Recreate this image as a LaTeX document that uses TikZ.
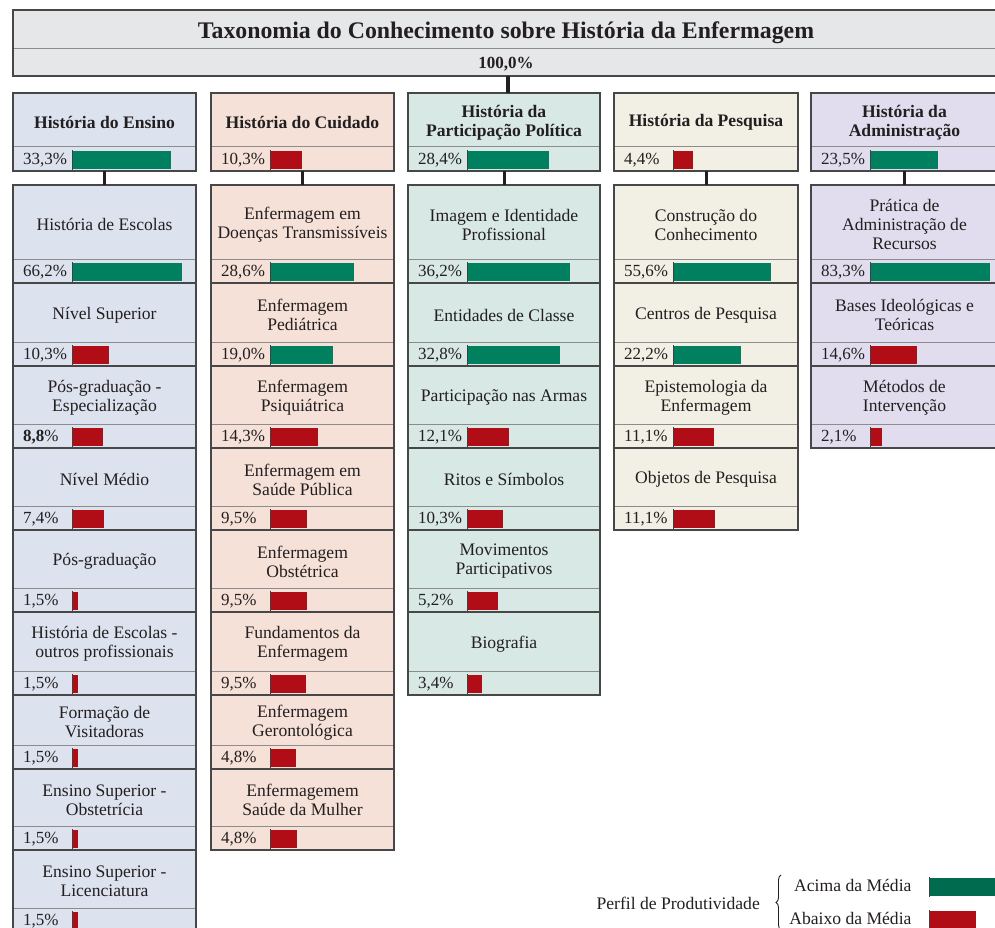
\documentclass[tikz,border=0pt]{standalone}
\usepackage{fontspec}
\setmainfont{Liberation Serif}
\usetikzlibrary{decorations.pathreplacing}

\definecolor{tinta}{HTML}{231F20}
\definecolor{cinza}{HTML}{E6E7E9}
\definecolor{azul}{HTML}{DCE3EF}
\definecolor{pessego}{HTML}{F5E1D7}
\definecolor{verdeclaro}{HTML}{D8E8E4}
\definecolor{creme}{HTML}{F2EFE4}
\definecolor{lilas}{HTML}{E1DDEE}
\definecolor{verde}{HTML}{00805F}
\definecolor{verdeesc}{HTML}{006B4F}
\definecolor{vermelho}{HTML}{B00D17}

\newcommand{\txt}{\fontsize{17.6}{19}\selectfont}
\newcommand{\num}{\fontsize{17}{19}\selectfont}

\tikzset{
  caixa/.style={inner sep=0pt, outer sep=0pt},
  titulo/.style={inner sep=0pt, outer sep=0pt, align=center, font=\txt, text=tinta},
  pct/.style={inner sep=0pt, outer sep=0pt, minimum height=24pt},
  borda/.style={draw=black!72, line width=1.4pt},
  sep/.style={draw=black!45, line width=1pt},
  marca/.style={draw=black!75, line width=1pt},
  acima/.style={fill=verde},
  abaixo/.style={fill=vermelho},
  liga/.style={draw=tinta, line width=3pt},
}

% #1 nome, #2 topo, #3 base, #4 texto, #5 valor, #6 barra, #7 estilo da barra
\newcommand{\celula}[7]{%
  \node[caixa, fill=\fundo, minimum width=\colw, minimum height={(#3-#2-24)*1pt}, anchor=north west] (#1) at (\colx,#2) {};
  \node[titulo] (#1x) at ([yshift=-2.5pt]#1.center) {#4};
  \node[pct, fill=\fundo, minimum width=\colw, anchor=north west] (#1p) at (#1.south west) {};
  \node[anchor=west, inner sep=0pt, font=\num, text=tinta] (#1t) at ([xshift=10pt,yshift=-1.5pt]#1p.west) {#5};
  \fill[#7] ([xshift=59.5pt,yshift=2pt]#1p.south west) rectangle ++(#6,-18);
  \draw[marca] ([xshift=59.5pt,yshift=1pt]#1p.south west) -- ++(0,-20);
  \draw[sep] (#1.south west) -- (#1.south east);
  \draw[borda] (#1.north west) rectangle (#1p.south east);
}

\begin{document}
\begin{tikzpicture}[x=1pt, y=-1pt]
\useasboundingbox (0,0) rectangle (995,928);

% titulo
\node[caixa, fill=cinza, minimum width=986pt, minimum height=39pt, anchor=north west] (tit) at (13,10) {};
\node[titulo, font=\fontsize{23.8}{26}\selectfont\bfseries] (titx) at ([yshift=-3pt]tit.center)
  {Taxonomia do Conhecimento sobre História da Enfermagem};
\node[caixa, fill=cinza, minimum width=986pt, minimum height=27pt, anchor=north west] (tot) at (tit.south west) {};
\node[titulo, font=\fontsize{17}{19}\selectfont\bfseries] (totx) at ([yshift=-1.5pt]tot.center) {100,0\%};
\draw[sep] (tit.south west) -- (tit.south east);
\draw[borda] (tit.north west) rectangle (tot.south east);

% Ensino
\def\colx{13}\def\colw{183pt}\def\fundo{azul}
\celula{hd1}{93}{171}{\textbf{História do Ensino}}{33,3\%}{98.5}{acima}
\celula{e1}{185}{283}{História de Escolas}{66,2\%}{109.5}{acima}
\celula{e2}{283}{366}{Nível Superior}{10,3\%}{36.5}{abaixo}
\celula{e3}{366}{448}{Pós-graduação -\\Especialização}{\textbf{8,8}\%}{30.5}{abaixo}
\celula{e4}{448}{530}{Nível Médio}{7,4\%}{31.5}{abaixo}
\celula{e5}{530}{612}{Pós-graduação}{1,5\%}{5.5}{abaixo}
\celula{e6}{612}{695}{História de Escolas -\\outros profissionais}{1,5\%}{5.5}{abaixo}
\celula{e7}{695}{769}{Formação de\\Visitadoras}{1,5\%}{5.5}{abaixo}
\celula{e8}{769}{850}{Ensino Superior -\\Obstetrícia}{1,5\%}{5.5}{abaixo}
\celula{e9}{850}{932}{Ensino Superior -\\Licenciatura}{1,5\%}{5.5}{abaixo}

% Cuidado
\def\colx{211}\def\colw{183pt}\def\fundo{pessego}
\celula{hd2}{93}{171}{\textbf{História do Cuidado}}{10,3\%}{31.5}{abaixo}
\celula{c1}{185}{283}{Enfermagem em\\Doenças Transmissíveis}{28,6\%}{83.5}{acima}
\celula{c2}{283}{366}{Enfermagem\\Pediátrica}{19,0\%}{62.5}{acima}
\celula{c3}{366}{448}{Enfermagem\\Psiquiátrica}{14,3\%}{47.5}{abaixo}
\celula{c4}{448}{530}{Enfermagem em\\Saúde Pública}{9,5\%}{36.5}{abaixo}
\celula{c5}{530}{612}{Enfermagem\\Obstétrica}{9,5\%}{36.5}{abaixo}
\celula{c6}{612}{695}{Fundamentos da\\Enfermagem}{9,5\%}{35.5}{abaixo}
\celula{c7}{695}{769}{Enfermagem\\Gerontológica}{4,8\%}{25.5}{abaixo}
\celula{c8}{769}{850}{Enfermagemem\\Saúde da Mulher}{4,8\%}{26.5}{abaixo}

% Participacao Politica
\def\colx{408}\def\colw{192pt}\def\fundo{verdeclaro}
\celula{hd3}{93}{171}{\textbf{História da}\\\textbf{Participação Política}}{28,4\%}{81.5}{acima}
\celula{p1}{185}{283}{Imagem e Identidade\\Profissional}{36,2\%}{102.5}{acima}
\celula{p2}{283}{366}{Entidades de Classe}{32,8\%}{92.5}{acima}
\celula{p3}{366}{448}{Participação nas Armas}{12,1\%}{41.5}{abaixo}
\celula{p4}{448}{530}{Ritos e Símbolos}{10,3\%}{35.5}{abaixo}
\celula{p5}{530}{612}{Movimentos\\Participativos}{5,2\%}{30.5}{abaixo}
\celula{p6}{612}{695}{Biografia}{3,4\%}{14.5}{abaixo}

% Pesquisa
\def\colx{614}\def\colw{184pt}\def\fundo{creme}
\celula{hd4}{93}{171}{\textbf{História da Pesquisa}}{4,4\%}{19.5}{abaixo}
\celula{q1}{185}{283}{Construção do\\Conhecimento}{55,6\%}{97.5}{acima}
\celula{q2}{283}{366}{Centros de Pesquisa}{22,2\%}{67.5}{acima}
\celula{q3}{366}{448}{Epistemologia da\\Enfermagem}{11,1\%}{40.5}{abaixo}
\celula{q4}{448}{530}{Objetos de Pesquisa}{11,1\%}{41.5}{abaixo}

% Administracao
\def\colx{811}\def\colw{187pt}\def\fundo{lilas}
\celula{hd5}{93}{171}{\textbf{História da}\\\textbf{Administração}}{23,5\%}{67.5}{acima}
\celula{a1}{185}{283}{Prática de\\Administração de\\Recursos}{83,3\%}{119.5}{acima}
\celula{a2}{283}{366}{Bases Ideológicas e\\Teóricas}{14,6\%}{46.5}{abaixo}
\celula{a3}{366}{448}{Métodos de\\Intervenção}{2,1\%}{11.5}{abaixo}

% ligacoes
\draw[liga, line width=4pt] ([xshift=2pt]tot.south) -- ([xshift=2pt]tot.south |- hd3.north);
\draw[liga] (hd1p.south) -- (e1.north);
\draw[liga] (hd2p.south) -- (c1.north);
\draw[liga] (hd3p.south) -- (p1.north);
\draw[liga] (hd4p.south) -- (q1.north);
\draw[liga] (hd5p.south) -- (a1.north);

% legenda
\node[anchor=west, font=\txt, text=tinta] (perfil) at (593,903) {Perfil de Produtividade};
\draw[tinta, line width=0.9pt, decorate, decoration={brace, amplitude=5pt}] (781,930) -- (781,875);
\node[anchor=east, font=\txt, text=tinta] (acima) at (915,885) {Acima da Média};
\node[anchor=east, font=\txt, text=tinta] (abaixo) at (915,918) {Abaixo da Média};
\fill[verdeesc] (929,878) rectangle (997,896);
\fill[vermelho] (929,911) rectangle (976,930);
\draw[marca] (929,877) -- (929,897);
\draw[marca] (929,910) -- (929,930);
\end{tikzpicture}
\end{document}
